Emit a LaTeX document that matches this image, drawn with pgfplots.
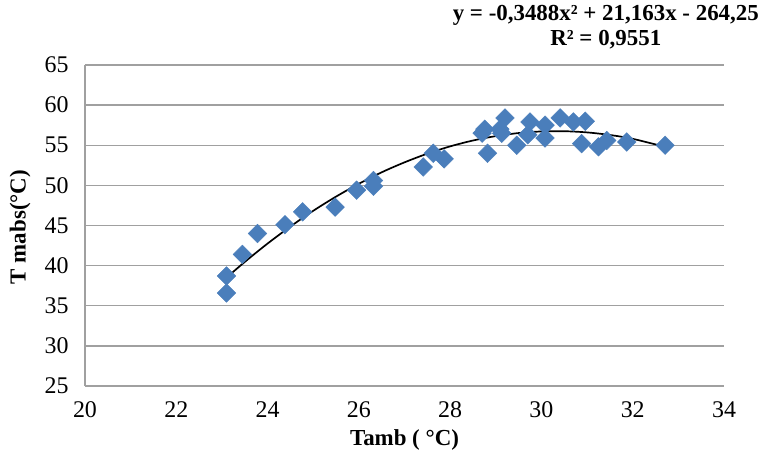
\documentclass[border=0pt]{standalone}
\usepackage{fontspec}
\setmainfont{Liberation Serif}
\usepackage{pgfplots}
\pgfplotsset{compat=1.18}
\definecolor{ptblue}{HTML}{4A7EBB}
\definecolor{gridgray}{HTML}{A0A0A0}

\begin{document}
\begin{tikzpicture}
\path[use as bounding box] (-85bp,-68bp) rectangle (686bp,386bp);
\begin{axis}[
  at={(0,0)}, anchor=south west,
  scale only axis, width=639bp, height=321bp,
  xmin=20, xmax=34, ymin=25, ymax=65,
  xtick={20,22,...,34}, ytick={25,30,...,65},
  axis x line*=bottom, axis y line*=left,
  axis line style={gridgray, line width=1.4pt, -},
  ymajorgrids, grid style={gridgray, line width=1.4pt},
  major tick length=0pt,
  tick label style={font=\fontsize{24}{26}\selectfont},
  /pgf/number format/assume math mode=true,
  xticklabel style={anchor=north, yshift=-12bp},
  yticklabel style={anchor=east, xshift=-13bp},
  xlabel={\textbf{Tamb ( °C)}},
  label style={font=\fontsize{23}{26}\selectfont},
  xlabel style={at={(axis description cs:0.5,0)}, anchor=center, yshift=-54bp},
  clip=false,
]
% measured points
\addplot[only marks, mark=square*, mark size=6.6bp, mark options={rotate=45, fill=ptblue, draw=ptblue}] coordinates {
  (23.10,36.6) (23.10,38.7) (23.45,41.4) (23.78,44.0) (24.38,45.1) (24.77,46.7)
  (25.48,47.3) (25.95,49.4) (26.32,49.9) (26.32,50.6) (27.41,52.3) (27.63,54.0)
  (27.87,53.3) (28.76,57.0) (28.70,56.5) (28.82,54.0) (29.09,57.0) (29.20,58.4)
  (29.13,56.5) (29.46,55.0) (29.75,57.9) (29.70,56.3) (30.08,57.5) (30.08,55.9)
  (30.41,58.4) (30.70,57.9) (30.96,58.0) (30.88,55.2) (31.25,54.8) (31.43,55.6)
  (31.87,55.4) (32.71,55.0)
};
% polynomial trend line
\addplot[black, line width=1.7pt, smooth] coordinates {
  (23.1,38.50) (23.5,40.46) (24.0,42.75) (24.5,44.87) (25.0,46.83) (25.5,48.60)
  (26.0,50.20) (26.5,51.63) (27.0,52.87) (27.5,53.95) (28.0,54.86) (28.5,55.59)
  (29.0,56.14) (29.5,56.52) (30.0,56.72) (30.5,56.75) (31.0,56.60) (31.5,56.28)
  (32.0,55.80) (32.7,54.81)
};
\node[rotate=90, font=\bfseries\fontsize{23}{26}\selectfont]
  at ([xshift=-65bp]rel axis cs:0,0.495) {T mabs(°C)};
\node[align=center, font=\bfseries\fontsize{23}{25}\selectfont]
  at (rel axis cs:0.815,1.117) {y = -0,3488x² + 21,163x - 264,25\\R² = 0,9551};
\end{axis}
\end{tikzpicture}
\end{document}
